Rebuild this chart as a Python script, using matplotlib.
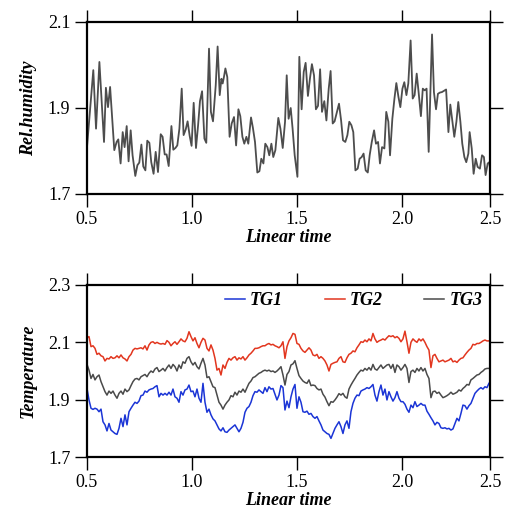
import numpy as np
import matplotlib
matplotlib.use("Agg")
import matplotlib.pyplot as plt

plt.rcParams['font.family'] = ['Liberation Serif', 'DejaVu Serif']

# ---------------- data ----------------
hum_time = [0.500, 0.530, 0.543, 0.559, 0.581, 0.590, 0.600, 0.610, 0.630, 0.641,
            0.649, 0.660, 0.670, 0.679, 0.689, 0.698, 0.708, 0.717, 0.730, 0.740,
            0.749, 0.759, 0.768, 0.778, 0.787, 0.797, 0.806, 0.817, 0.827, 0.838,
            0.851, 0.860, 0.870, 0.879, 0.889, 0.902, 0.911, 0.921, 0.930, 0.940,
            0.951, 0.960, 0.970, 0.979, 0.989, 0.998, 1.008, 1.019, 1.029, 1.038,
            1.048, 1.059, 1.068, 1.081, 1.090, 1.100, 1.113, 1.122, 1.132,
            1.140, 1.146, 1.152, 1.159, 1.168, 1.179, 1.189, 1.200, 1.210, 1.221,
            1.230, 1.240, 1.249, 1.259, 1.268, 1.281, 1.290, 1.300, 1.311, 1.321,
            1.330, 1.340, 1.349, 1.359, 1.368, 1.378, 1.387, 1.397, 1.411, 1.421,
            1.432, 1.443, 1.451, 1.460, 1.470, 1.479, 1.489, 1.502, 1.511, 1.522,
            1.532, 1.541, 1.552, 1.562, 1.571, 1.581, 1.590, 1.600, 1.610, 1.619,
            1.630, 1.640, 1.651, 1.660, 1.670, 1.679, 1.690, 1.700, 1.710, 1.719,
            1.730, 1.740, 1.749, 1.759, 1.768, 1.778,
            1.789, 1.798, 1.808, 1.817, 1.827, 1.837, 1.846, 1.856, 1.867, 1.876,
            1.886, 1.895, 1.905, 1.916, 1.925, 1.935, 1.943, 1.954, 1.964, 1.973,
            1.983, 1.992, 2.002, 2.011, 2.021, 2.030, 2.041, 2.051, 2.060, 2.070,
            2.079, 2.090, 2.099, 2.108, 2.117, 2.127, 2.143, 2.152, 2.162, 2.171,
            2.181, 2.190, 2.200, 2.210, 2.221, 2.230, 2.240, 2.249, 2.259, 2.268,
            2.278, 2.287, 2.297, 2.306, 2.316, 2.322, 2.332, 2.341, 2.351, 2.360,
            2.371, 2.381, 2.390, 2.398, 2.408, 2.416, 2.419]

rel_humidity = [1.809, 1.988, 1.852, 2.007, 1.821, 1.947, 1.902, 1.949, 1.802, 1.821,
                1.827, 1.771, 1.844, 1.809, 1.858, 1.776, 1.848, 1.790, 1.742, 1.767,
                1.773, 1.815, 1.764, 1.755, 1.824, 1.819, 1.774, 1.747, 1.798, 1.751,
                1.839, 1.833, 1.792, 1.792, 1.765, 1.858, 1.803, 1.807, 1.813, 1.852,
                1.945, 1.837, 1.850, 1.869, 1.835, 1.812, 1.912, 1.807, 1.860, 1.916,
                1.939, 1.829, 1.819, 2.038, 1.891, 1.869, 1.953, 2.043, 1.930,
                1.968, 1.957, 1.972, 1.992, 1.972, 1.833, 1.864, 1.879, 1.813, 1.897,
                1.881, 1.833, 1.817, 1.833, 1.817, 1.878, 1.854, 1.821, 1.750, 1.753,
                1.782, 1.771, 1.817, 1.809, 1.790, 1.817, 1.786, 1.802, 1.877, 1.852,
                1.807, 1.868, 1.976, 1.875, 1.900, 1.852, 1.790, 1.740, 2.019, 1.897,
                1.984, 2.005, 1.928, 1.970, 2.002, 1.976, 1.897, 1.905, 1.990, 1.891,
                1.916, 1.871, 1.945, 1.986, 1.864, 1.869, 1.891, 1.910, 1.871, 1.825,
                1.821, 1.837, 1.868, 1.860, 1.844, 1.755,
                1.759, 1.782, 1.786, 1.794, 1.755, 1.750, 1.790, 1.821, 1.848, 1.817,
                1.821, 1.771, 1.809, 1.806, 1.891, 1.868, 1.790, 1.875, 1.922, 1.958,
                1.926, 1.902, 1.945, 1.960, 1.930, 1.957, 2.057, 1.922, 1.930, 1.980,
                1.937, 1.881, 1.945, 1.941, 1.945, 1.798, 2.071, 1.937, 1.897, 1.933,
                1.936, 1.937, 1.940, 1.943, 1.844, 1.908, 1.868, 1.833, 1.868, 1.914,
                1.868, 1.817, 1.786, 1.774, 1.794, 1.844, 1.806, 1.747, 1.782, 1.763,
                1.759, 1.790, 1.786, 1.744, 1.771, 1.774, 1.759]

tg2 = [2.116, 2.120, 2.085, 2.088, 2.079, 2.058, 2.062, 2.053, 2.050, 2.035,
       2.044, 2.042, 2.050, 2.044, 2.046, 2.053, 2.046, 2.056, 2.046, 2.042,
       2.035, 2.050, 2.058, 2.073, 2.079, 2.077, 2.079, 2.081, 2.077, 2.088,
       2.073, 2.091, 2.100, 2.102, 2.096, 2.100, 2.096, 2.094, 2.096, 2.093,
       2.106, 2.100, 2.088, 2.096, 2.102, 2.093, 2.102, 2.112, 2.105, 2.102,
       2.114, 2.137, 2.120, 2.105, 2.116, 2.096, 2.081, 2.100, 2.114, 2.108,
       2.079, 2.070, 2.091, 2.073, 2.044, 2.003, 2.009, 1.986,
       2.021, 2.009, 2.030, 2.044, 2.038, 2.046, 2.050, 2.038, 2.046, 2.042,
       2.050, 2.038, 2.046, 2.056, 2.062, 2.070, 2.079, 2.079, 2.081, 2.085,
       2.088, 2.088, 2.093, 2.096, 2.091, 2.093, 2.088, 2.085, 2.081, 2.088,
       2.102, 2.044, 2.085, 2.105, 2.116, 2.131, 2.128, 2.096, 2.093, 2.079,
       2.070, 2.065, 2.073, 2.081, 2.073, 2.056, 2.053, 2.058, 2.044, 2.050,
       2.044, 2.035, 2.021, 2.000, 2.023, 2.027, 2.030, 2.032, 2.044, 2.050,
       2.032, 2.030, 2.046, 2.058, 2.062, 2.070,
       2.067, 2.081, 2.091, 2.102, 2.100, 2.108, 2.102, 2.112, 2.105, 2.131,
       2.112, 2.100, 2.105, 2.108, 2.112, 2.108, 2.116, 2.123, 2.120, 2.123,
       2.116, 2.120, 2.114, 2.102, 2.112, 2.139, 2.102, 2.062, 2.100, 2.112,
       2.105, 2.100, 2.112, 2.105, 2.112, 2.100, 2.085, 2.073, 2.012, 2.053,
       2.058, 2.044, 2.032, 2.035, 2.038, 2.032, 2.035, 2.038, 2.044, 2.032,
       2.035, 2.030, 2.038, 2.044, 2.046, 2.056, 2.065, 2.073, 2.079, 2.093,
       2.091, 2.096, 2.096, 2.100, 2.105, 2.108, 2.105, 2.105]

tg3 = [2.023, 2.003, 1.974, 1.988, 1.969, 1.980, 1.986, 1.963, 1.945, 1.928,
       1.916, 1.930, 1.922, 1.930, 1.916, 1.905, 1.922, 1.930, 1.919, 1.937,
       1.928, 1.934, 1.949, 1.963, 1.972, 1.974, 1.969, 1.980, 1.984, 1.988,
       1.980, 1.992, 2.000, 1.995, 2.007, 2.012, 1.998, 2.003, 2.009, 2.000,
       2.012, 2.021, 2.009, 2.023, 2.015, 2.000, 2.021, 2.009, 2.032, 2.027,
       2.044, 2.050, 2.032, 2.021, 2.030, 2.015, 2.007, 2.027, 2.044, 2.021,
       1.977, 1.980, 1.963, 1.945, 1.942, 1.916, 1.891, 1.881,
       1.867, 1.881, 1.891, 1.899, 1.914, 1.910, 1.926, 1.916, 1.930, 1.926,
       1.937, 1.926, 1.942, 1.957, 1.965, 1.977, 1.980, 1.986, 1.992, 1.995,
       2.000, 2.003, 2.000, 2.003, 1.998, 2.000, 1.995, 2.000, 2.007, 2.015,
       1.986, 1.951, 1.988, 1.998, 2.021, 2.025, 2.036, 2.009, 1.984, 1.974,
       1.965, 1.960, 1.957, 1.969, 1.949, 1.951, 1.949, 1.939, 1.934, 1.937,
       1.919, 1.909, 1.893, 1.879, 1.893, 1.891, 1.899, 1.909, 1.921, 1.916,
       1.922, 1.910, 1.905, 1.937, 1.951, 1.963,
       1.974, 1.986, 1.995, 2.003, 2.000, 2.009, 2.003, 2.012, 2.003, 2.023,
       2.007, 2.003, 2.012, 2.021, 2.009, 2.015, 2.021, 2.023, 2.009, 2.023,
       1.995, 2.021, 2.015, 2.003, 2.012, 2.023, 2.009, 1.960, 1.998, 2.003,
       1.995, 2.009, 2.000, 2.012, 2.000, 2.009, 1.988, 1.974, 1.907, 1.928,
       1.930, 1.922, 1.926, 1.916, 1.907, 1.910, 1.914, 1.919, 1.926, 1.919,
       1.922, 1.926, 1.934, 1.930, 1.939, 1.945, 1.953, 1.951, 1.969, 1.974,
       1.980, 1.986, 1.988, 1.995, 2.000, 2.007, 2.009, 2.009]

tg1 = [1.939, 1.899, 1.870, 1.866, 1.870, 1.867, 1.858, 1.867, 1.823, 1.812,
       1.791, 1.817, 1.794, 1.788, 1.782, 1.779, 1.800, 1.835, 1.806, 1.847,
       1.812, 1.858, 1.870, 1.881, 1.891, 1.887, 1.895, 1.914, 1.916, 1.930,
       1.926, 1.934, 1.937, 1.939, 1.945, 1.949, 1.910, 1.922, 1.916, 1.922,
       1.916, 1.926, 1.916, 1.937, 1.910, 1.905, 1.891, 1.928, 1.916, 1.934,
       1.937, 1.951, 1.928, 1.930, 1.910, 1.937, 1.905, 1.891, 1.957, 1.891,
       1.856, 1.867, 1.847, 1.833, 1.826, 1.812, 1.798, 1.791,
       1.802, 1.788, 1.786, 1.794, 1.800, 1.806, 1.812, 1.800, 1.788, 1.800,
       1.821, 1.856, 1.870, 1.876, 1.891, 1.914, 1.928, 1.926, 1.934, 1.928,
       1.922, 1.942, 1.928, 1.945, 1.937, 1.939, 1.919, 1.899, 1.916, 1.949,
       1.942, 1.864, 1.895, 1.872, 1.910, 1.937, 1.953, 1.870, 1.910, 1.891,
       1.858, 1.856, 1.860, 1.849, 1.852, 1.841, 1.835, 1.841, 1.826, 1.812,
       1.794, 1.788, 1.782, 1.779, 1.765, 1.782, 1.800, 1.812, 1.823, 1.806,
       1.782, 1.812, 1.826, 1.800, 1.858, 1.887,
       1.905, 1.916, 1.914, 1.930, 1.934, 1.937, 1.942, 1.939, 1.945, 1.953,
       1.916, 1.895, 1.928, 1.951, 1.916, 1.937, 1.899, 1.928, 1.910, 1.895,
       1.907, 1.928, 1.905, 1.893, 1.893, 1.884, 1.867, 1.856, 1.881, 1.872,
       1.893, 1.876, 1.881, 1.887, 1.881, 1.881, 1.860, 1.849, 1.837, 1.826,
       1.812, 1.821, 1.817, 1.802, 1.800, 1.802, 1.798, 1.800, 1.794, 1.798,
       1.817, 1.835, 1.826, 1.852, 1.881, 1.879, 1.867, 1.879, 1.887, 1.905,
       1.922, 1.930, 1.937, 1.942, 1.937, 1.945, 1.942, 1.957]

temp_time = np.linspace(0.5, 2.414, len(tg1))

series_labels = ['TG1', 'TG2', 'TG3']
series_colors = ['#1b35d6', '#e2361f', '#4a4a4a']

x_range = (0.5, 2.419)
x_ticks = [0.5, 1.0, 1.5, 2.0, 2.419]
x_ticklabels = ['0.5', '1.0', '1.5', '2.0', '2.5']
hum_ticks = [1.7, 1.9, 2.1]
temp_ticks = [1.7, 1.9, 2.1, 2.3]

# ---------------- figure ----------------
fig = plt.figure(figsize=(5.06, 5.08), dpi=100)
L, W = 87 / 506, 403 / 506
ax1 = fig.add_axes([L, 1 - 194 / 508, W, 172 / 508])
ax2 = fig.add_axes([L, 1 - 457 / 508, W, 172 / 508])

ax1.plot(hum_time, rel_humidity, color='#4d4d4d', lw=1.3)
ax2.plot(temp_time, tg1, color=series_colors[0], lw=1.1, label=series_labels[0])
ax2.plot(temp_time, tg2, color=series_colors[1], lw=1.1, label=series_labels[1])
ax2.plot(temp_time, tg3, color=series_colors[2], lw=1.1, label=series_labels[2])

label_font = dict(fontsize=13, fontweight='bold', fontstyle='italic')

for ax, yt, ylab in [(ax1, hum_ticks, 'Rel.humidity'), (ax2, temp_ticks, 'Temperature')]:
    ax.set_xlim(*x_range)
    ax.set_ylim(yt[0], yt[-1])
    ax.set_xticks(x_ticks)
    ax.set_xticklabels(x_ticklabels)
    ax.set_yticks(yt)
    ax.set_yticklabels([f'{v:.1f}' for v in yt])
    ax.tick_params(direction='out', length=9, width=1.0, top=True, right=True,
                   labelsize=13, pad=3)
    for s in ax.spines.values():
        s.set_linewidth(1.6)
    ax.set_xlabel('Linear time', labelpad=1, **label_font)
    ax.set_ylabel(ylab, labelpad=8, **label_font)

leg = ax2.legend(ncol=3, loc='upper right', bbox_to_anchor=(1.0, 1.0), frameon=False,
                 handlelength=1.1, handletextpad=0.3, columnspacing=2.3,
                 borderaxespad=0.1, borderpad=0.3,
                 prop=dict(family='Liberation Serif', size=13, weight='bold', style='italic'))

fig.savefig('out.png', dpi=100)
